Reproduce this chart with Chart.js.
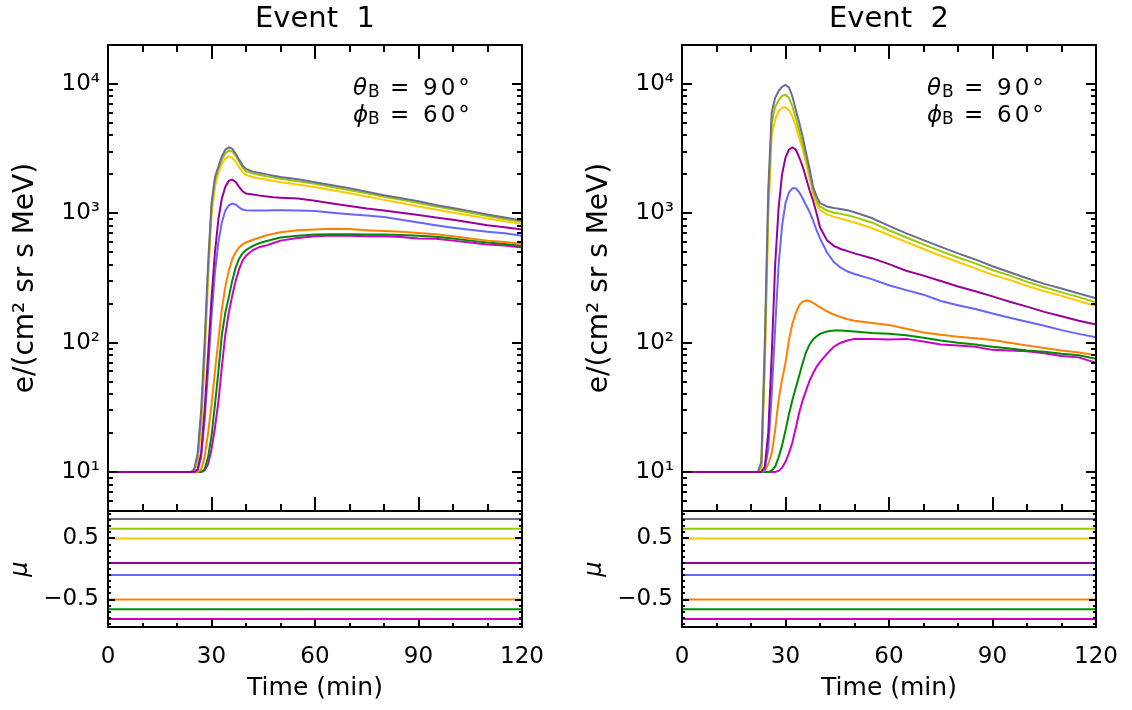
<!DOCTYPE html>
<html><head><meta charset="utf-8">
<script src="https://cdn.jsdelivr.net/npm/chart.js@4.4.1/dist/chart.umd.min.js"></script>
<style>
html,body{margin:0;padding:0;background:#fff;}
#wrap{position:relative;width:1132px;height:710px;overflow:hidden;background:#fff;}
canvas{position:absolute;}
</style></head><body>
<div id="wrap">
<canvas id="c1t" width="560" height="520" style="left:0px;top:0px"></canvas>
<canvas id="c1b" width="560" height="210" style="left:0px;top:500px"></canvas>
<canvas id="c2t" width="558" height="520" style="left:574px;top:0px"></canvas>
<canvas id="c2b" width="558" height="210" style="left:574px;top:500px"></canvas>
</div>
<script>
// ---------- data ----------
const times = [0,22,23,24,25,26,27,28,29,30,31,32,33,34,35,36,37,38,39,40,42,44,46,48,50,55,60,65,70,75,80,85,90,95,100,105,110,115,120];

// Event 1
const e1Grey    = [10,10,10,10,10.5,14,30,100,400,1200,1900,2300,2750,3100,3230,3150,2900,2600,2350,2200,2100,2050,2000,1950,1910,1830,1740,1650,1560,1470,1380,1310,1240,1160,1100,1040,980,930,880];
const e1Lime    = [10,10,10,10,10.3,13,26,85,350,1100,1800,2200,2600,2900,3050,3000,2780,2500,2260,2120,2030,1980,1930,1890,1850,1770,1690,1600,1510,1430,1340,1270,1200,1130,1070,1010,955,905,860];
const e1Yellow  = [10,10,10,10,10.2,12,22,70,300,950,1600,2050,2400,2650,2760,2700,2500,2270,2080,1980,1900,1860,1820,1780,1740,1670,1600,1510,1430,1350,1270,1200,1130,1070,1010,960,910,870,830];
const e1Purple  = [10,10,10,10,10,10.5,14,30,80,220,500,900,1300,1600,1780,1820,1750,1600,1480,1420,1400,1370,1350,1330,1320,1300,1250,1190,1140,1090,1050,1010,970,930,890,850,810,780,750];
const e1Blue    = [10,10,10,10,10,10.3,13,25,60,160,350,600,850,1050,1150,1190,1170,1110,1070,1055,1050,1050,1050,1055,1055,1050,1040,1010,985,960,935,890,850,810,775,745,720,700,670];
const e1Orange  = [10,10,10,10,10,10,10.5,13,20,33,60,105,180,270,360,440,500,545,575,595,625,650,676,695,715,740,750,760,755,740,730,720,705,690,665,640,615,600,580];
const e1Green   = [10,10,10,10,10,10,10,10.5,13,19,33,60,115,170,224,300,380,445,490,520,560,590,610,630,650,670,685,690,690,685,685,680,670,660,640,615,595,580,560];
const e1Magenta = [10,10,10,10,10,10,10,10.3,11.5,15,22,35,65,115,170,230,300,370,430,470,520,550,565,590,615,645,665,675,670,665,665,655,640,635,615,595,575,565,545];

// Event 2
const e2Grey    = [10,10,12,100,1500,6000,7800,8800,9500,9820,9400,8000,6300,5000,3900,2900,2200,1600,1350,1200,1130,1100,1080,1055,1020,920,800,700,620,550,490,440,390,350,315,285,262,240,220];
const e2Lime    = [10,10,11,80,1200,5000,6600,7500,8100,8220,7800,6700,5400,4300,3400,2600,2000,1500,1250,1130,1050,1010,990,965,935,850,740,650,575,510,455,410,365,330,295,268,245,225,205];
const e2Yellow  = [10,10,10.5,60,900,4000,5300,6200,6550,6590,6300,5600,4700,3800,3100,2400,1850,1400,1180,1060,980,940,910,880,850,770,680,600,530,470,420,375,335,305,275,250,230,210,192];
const e2Purple  = [10,10,10,11,20,80,400,1100,2000,2700,3100,3230,3100,2700,2300,1850,1500,1250,1000,780,620,560,530,510,490,450,405,360,330,300,272,250,228,207,190,173,160,148,138];
const e2Blue    = [10,10,10,10.5,15,40,130,400,800,1200,1450,1560,1560,1450,1300,1150,1020,880,740,640,500,420,380,355,340,310,278,255,235,210,195,182,168,156,145,135,125,117,110];
const e2Orange  = [10,10,10,10.3,11.5,14,21,36,52,70,105,140,170,195,208,212,210,203,195,188,175,165,158,152,148,142,137,128,120,115,111,108,105,100,95,91,87,84,80];
const e2Green   = [10,10,10,10,10,10.3,11,13,16,21,28,36,45,56,70,85,97,106,112,117,122,124,124,123,122,119,117,114,109,104,100,97,93,90,87,85,82,80,75];
const e2Magenta = [10,10,10,10,10,10,10,10.2,10.8,12,14,17,22,29,36,43,51,58,65,71,82,93,100,104,107,107,106,107,102,97,95,93,88,87,86,83,79,77,70];

// pitch-angle cosines of the eight channels
const muValues = [0.82, 0.66, 0.5, 0.1, -0.1, -0.5, -0.66, -0.82];

// ticks / labels
const xMajorTicks = [0,30,60,90,120];
const xTickLabels = ['0','30','60','90','120'];
const xMinorTicks = [10,20,40,50,70,80,100,110];
const logTickValues = [10,100,1000,10000];
const logTickLabels = ['10\u00B9','10\u00B2','10\u00B3','10\u2074'];
const muTickValues = [-0.5, 0.5];
const muTickLabels = ['\u22120.5','0.5'];
const muMinorTicks = [-0.9,-0.8,-0.7,-0.6,-0.4,-0.3,-0.2,-0.1,0,0.1,0.2,0.3,0.4,0.6,0.7,0.8,0.9];
const titles = ['Event  1','Event  2'];
const annotLines = [['\u03B8','90\u00B0'],['\u03D5','60\u00B0']];

// ---------- styles ----------
const colors = ['#6c6c94','#99cc00','#ffc800','#990099','#6666ff','#ff8000','#008c00','#cc00cc'];
const drawOrder = [2,3,4,1,5,6,7,8];
const FAM = "'DejaVu Sans', sans-serif";

const logMinorTicks = [];
[1,10,100,1000,10000].forEach(d => { for (let m = 2; m <= 9; m++) { const v = m*d; if (v >= 5 && v <= 20000) logMinorTicks.push(v); } });

// ---------- plugins ----------
const boxTicks = {
  id: 'boxTicks',
  afterDatasetsDraw(chart, args, o) {
    const {ctx, chartArea: a, scales} = chart;
    const xs = scales.x, ys = scales.y;
    ctx.save();
    ctx.strokeStyle = '#000';
    ctx.lineWidth = 2;
    ctx.beginPath();
    const xt = (vals, len) => vals.forEach(v => {
      const p = Math.round(xs.getPixelForValue(v));
      ctx.moveTo(p, a.bottom); ctx.lineTo(p, a.bottom - len);
      if (o.topTicks) { ctx.moveTo(p, a.top); ctx.lineTo(p, a.top + len); }
    });
    const yt = (vals, len) => vals.forEach(v => {
      const p = Math.round(ys.getPixelForValue(v));
      ctx.moveTo(a.left, p); ctx.lineTo(a.left + len, p);
      ctx.moveTo(a.right, p); ctx.lineTo(a.right - len, p);
    });
    xt(xMajorTicks, o.xMaj); xt(xMinorTicks, o.xMin);
    yt(o.yMajor, o.yMaj); yt(o.yMinor, o.yMin);
    ctx.stroke();
    ctx.lineWidth = 2;
    ctx.strokeRect(a.left, a.top, a.right - a.left, a.bottom - a.top);
    ctx.restore();
  }
};

const annot = {
  id: 'annot',
  afterDraw(chart, args, o) {
    if (!o.show) return;
    const {ctx, chartArea: a} = chart;
    const x0 = a.left + 245;
    ctx.save();
    ctx.fillStyle = '#000';
    ctx.textBaseline = 'alphabetic';
    ctx.textAlign = 'left';
    annotLines.forEach((ln, k) => {
      const y = a.top + 50 + k * 27;
      ctx.font = 'italic 23px ' + FAM; ctx.fillText(ln[0], x0, y);
      ctx.font = '17px ' + FAM; ctx.fillText('B', x0 + 15, y + 2);
      ctx.font = '23px ' + FAM; ctx.fillText('=', x0 + 37, y);
      try { ctx.letterSpacing = '3px'; } catch (e) {}
      ctx.fillText(ln[1], x0 + 70, y);
      try { ctx.letterSpacing = '0px'; } catch (e) {}
    });
    ctx.restore();
  }
};

function noPad(s) { s.paddingTop = 0; s.paddingBottom = 0; s.paddingLeft = 0; s.paddingRight = 0; }

// ---------- chart builders ----------
function lineSets(series, xs) {
  return series.map((arr, i) => ({
    data: xs.map((t, j) => ({x: t, y: arr[j]})),
    borderColor: colors[i], backgroundColor: colors[i],
    borderWidth: 2, pointRadius: 0, fill: false, tension: 0, order: drawOrder[i]
  }));
}

function topChart(id, series, title, padRight) {
  return new Chart(document.getElementById(id), {
    type: 'line',
    data: {datasets: lineSets(series, times)},
    options: {
      responsive: false, animation: false, devicePixelRatio: 1,
      layout: {padding: {left: 0, right: padRight, top: 0, bottom: 9}},
      plugins: {
        legend: {display: false}, tooltip: {enabled: false},
        title: {display: true, text: title, fullSize: false, color: '#000',
          font: {family: FAM, size: 29, weight: 'normal'}, padding: {top: 2, bottom: 8.2}},
        boxTicks: {topTicks: true, xMaj: 14, xMin: 7, yMajor: logTickValues, yMinor: logMinorTicks, yMaj: 10, yMin: 5},
        annot: {show: true}
      },
      scales: {
        x: {type: 'linear', min: 0, max: 120, display: false, afterFit: noPad},
        y: {type: 'logarithmic', min: 5, max: 20000, position: 'left',
          afterBuildTicks: s => { s.ticks = logTickValues.map(v => ({value: v})); },
          afterFit: s => { s.width = 108; noPad(s); },
          grid: {display: false, drawTicks: false}, border: {display: false},
          ticks: {autoSkip: false, padding: 8, color: '#000', font: {family: FAM, size: 23},
            callback: v => { const i = logTickValues.indexOf(v); return i >= 0 ? logTickLabels[i] : ''; }},
          title: {display: true, text: 'e/(cm\u00B2 sr s MeV)', color: '#000',
            font: {family: FAM, size: 28}, padding: {top: 9, bottom: 0}}
        }
      }
    },
    plugins: [boxTicks, annot]
  });
}

function muChart(id, padRight) {
  const sets = muValues.map((m, i) => ({
    data: [{x: 0, y: m}, {x: 120, y: m}],
    borderColor: colors[i], backgroundColor: colors[i],
    borderWidth: 2, pointRadius: 0, fill: false, order: drawOrder[i]
  }));
  return new Chart(document.getElementById(id), {
    type: 'line',
    data: {datasets: sets},
    options: {
      responsive: false, animation: false, devicePixelRatio: 1,
      layout: {padding: {left: 0, right: padRight, top: 11, bottom: 0}},
      plugins: {
        legend: {display: false}, tooltip: {enabled: false},
        boxTicks: {topTicks: false, xMaj: 8, xMin: 4, yMajor: muTickValues, yMinor: muMinorTicks, yMaj: 7, yMin: 3},
        annot: {show: false}
      },
      scales: {
        x: {type: 'linear', min: 0, max: 120, position: 'bottom',
          afterBuildTicks: s => { s.ticks = xMajorTicks.map(v => ({value: v})); },
          afterFit: s => { s.height = 83; noPad(s); },
          grid: {display: false, drawTicks: false}, border: {display: false},
          ticks: {autoSkip: false, maxRotation: 0, padding: 16, color: '#000', font: {family: FAM, size: 23},
            callback: v => { const i = xMajorTicks.indexOf(v); return i >= 0 ? xTickLabels[i] : ''; }},
          title: {display: true, text: 'Time (min)', color: '#000',
            font: {family: FAM, size: 25}, padding: {top: 0, bottom: 7}}
        },
        y: {type: 'linear', min: -0.95, max: 0.95, position: 'left',
          afterBuildTicks: s => { s.ticks = muTickValues.map(v => ({value: v})); },
          afterFit: s => { s.width = 108; noPad(s); },
          grid: {display: false, drawTicks: false}, border: {display: false},
          ticks: {autoSkip: false, padding: 9, color: '#000', font: {family: FAM, size: 23},
            callback: v => { const i = muTickValues.indexOf(v); return i >= 0 ? muTickLabels[i] : ''; }},
          title: {display: true, text: '\u03BC', color: '#000',
            font: {family: FAM, size: 24, style: 'italic'}, padding: {top: 6, bottom: 0}}
        }
      }
    },
    plugins: [boxTicks, annot]
  });
}

topChart('c1t', [e1Grey, e1Lime, e1Yellow, e1Purple, e1Blue, e1Orange, e1Green, e1Magenta], titles[0], 38);
topChart('c2t', [e2Grey, e2Lime, e2Yellow, e2Purple, e2Blue, e2Orange, e2Green, e2Magenta], titles[1], 36);
muChart('c1b', 38);
muChart('c2b', 36);
</script>
</body></html>
